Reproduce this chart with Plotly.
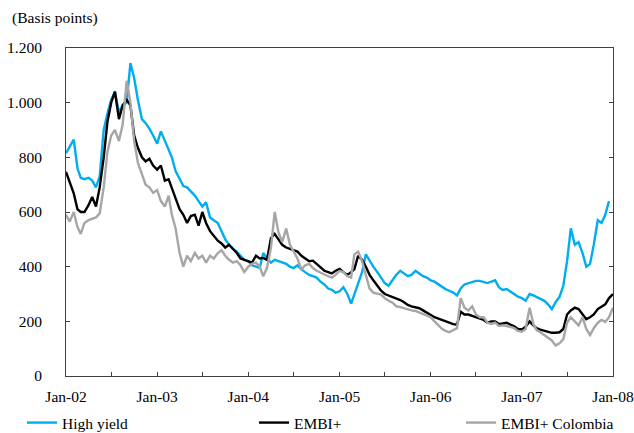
import plotly.graph_objects as go

# ---- data (semi-monthly readings, basis points) ----
years = [2002, 2003, 2004, 2005, 2006, 2007]
dates = [f"{y}-{m:02d}-{d:02d}" for y in years for m in range(1, 13) for d in (1, 16)] + ["2008-01-01"]

high_yield_2002 = [815, 840, 865, 760, 725, 720, 725, 715, 690, 730, 900, 960, 1010, 1040, 965, 990, 1000, 1145, 1090, 1010, 940, 925, 905, 880]
high_yield_2003 = [850, 895, 860, 830, 800, 750, 720, 695, 690, 675, 660, 640, 620, 635, 580, 570, 560, 530, 500, 480, 465, 455, 440, 425]
high_yield_2004 = [420, 405, 400, 395, 450, 430, 415, 425, 420, 415, 410, 400, 395, 405, 390, 380, 370, 365, 360, 345, 335, 320, 315, 305]
high_yield_2005 = [310, 325, 300, 265, 300, 340, 380, 445, 420, 400, 380, 360, 340, 330, 350, 370, 385, 375, 365, 370, 385, 375, 365, 360]
high_yield_2006 = [350, 345, 335, 325, 318, 312, 305, 295, 320, 335, 340, 345, 348, 348, 345, 340, 345, 350, 325, 315, 318, 310, 300, 290]
high_yield_2007 = [285, 275, 300, 295, 290, 282, 275, 262, 245, 270, 290, 330, 420, 540, 480, 490, 450, 400, 410, 480, 570, 560, 590, 640]
high_yield_end = [None]

embi_2002 = [747, 705, 668, 610, 600, 600, 625, 655, 620, 690, 800, 930, 1000, 1040, 940, 990, 1010, 990, 880, 835, 800, 785, 795, 770]
embi_2003 = [755, 770, 715, 720, 690, 650, 610, 590, 560, 585, 590, 550, 600, 560, 530, 515, 495, 485, 470, 480, 465, 450, 430, 425]
embi_2004 = [420, 415, 440, 430, 432, 425, 505, 520, 500, 480, 470, 465, 460, 455, 440, 430, 420, 422, 410, 395, 385, 380, 375, 385]
embi_2005 = [392, 380, 370, 380, 390, 440, 425, 400, 370, 350, 330, 312, 300, 295, 290, 285, 278, 270, 260, 255, 250, 248, 240, 232]
embi_2006 = [222, 215, 210, 205, 200, 195, 190, 188, 235, 225, 225, 220, 215, 212, 205, 195, 200, 200, 190, 192, 195, 188, 182, 172]
embi_2007 = [170, 180, 200, 185, 175, 170, 165, 160, 158, 158, 160, 172, 225, 240, 250, 245, 225, 208, 215, 225, 245, 255, 262, 285]
embi_end = [300]

colombia_2002 = [590, 565, 600, 545, 520, 560, 570, 575, 580, 595, 690, 820, 880, 900, 860, 920, 1080, 1000, 860, 780, 740, 700, 690, 670]
colombia_2003 = [680, 640, 620, 660, 590, 540, 450, 400, 440, 420, 450, 430, 440, 415, 440, 430, 450, 460, 440, 425, 415, 420, 405, 380]
colombia_2004 = [400, 410, 415, 400, 365, 395, 470, 600, 525, 490, 540, 480, 455, 430, 390, 405, 410, 395, 385, 378, 372, 365, 360, 370]
colombia_2005 = [385, 380, 365, 360, 445, 455, 420, 365, 320, 305, 300, 298, 285, 275, 268, 255, 252, 248, 242, 240, 238, 232, 228, 222]
colombia_2006 = [215, 200, 185, 172, 165, 160, 168, 175, 285, 250, 240, 255, 225, 215, 215, 195, 190, 195, 183, 185, 183, 178, 175, 165]
colombia_2007 = [162, 172, 250, 190, 168, 160, 150, 142, 130, 112, 120, 135, 195, 215, 200, 185, 215, 172, 150, 175, 195, 205, 198, 215]
colombia_end = [250]

high_yield = high_yield_2002 + high_yield_2003 + high_yield_2004 + high_yield_2005 + high_yield_2006 + high_yield_2007 + high_yield_end
embi = embi_2002 + embi_2003 + embi_2004 + embi_2005 + embi_2006 + embi_2007 + embi_end
colombia = colombia_2002 + colombia_2003 + colombia_2004 + colombia_2005 + colombia_2006 + colombia_2007 + colombia_end

y_tickvals = [0, 200, 400, 600, 800, 1000, 1200]
y_ticktext = ["0", "200", "400", "600", "800", "1.000", "1.200"]
x_tickvals = [f"{y}-01-01" for y in range(2002, 2009)]
x_ticktext = ["Jan-02", "Jan-03", "Jan-04", "Jan-05", "Jan-06", "Jan-07", "Jan-08"]
x_minorvals = [f"{y}-07-01" for y in range(2002, 2008)]

FONT = "Liberation Serif, Times New Roman, serif"
FS = 15.5
AX = "#404040"

fig = go.Figure()
fig.add_trace(go.Scatter(x=dates, y=high_yield, name="High yield", mode="lines",
                         line=dict(color="#00AEEF", width=2.4), legend="legend"))
fig.add_trace(go.Scatter(x=dates, y=embi, name="EMBI+", mode="lines",
                         line=dict(color="#000000", width=2.4), legend="legend2"))
fig.add_trace(go.Scatter(x=dates, y=colombia, name="EMBI+ Colombia", mode="lines",
                         line=dict(color="#A6A6A6", width=2.4), legend="legend3"))

leg_common = dict(orientation="h", yref="container", y=1 - 423 / 433, yanchor="middle",
                  xanchor="left", bgcolor="rgba(0,0,0,0)", font=dict(family=FONT, size=FS, color="#000"))

fig.update_layout(
    width=634, height=433,
    margin=dict(l=66, r=21, t=48, b=57),
    paper_bgcolor="white", plot_bgcolor="white",
    font=dict(family=FONT, size=FS, color="#000"),
    title=dict(text="(Basis points)", x=12 / 634, xanchor="left", xref="container",
               y=1 - 18 / 433, yanchor="middle", yref="container",
               font=dict(family=FONT, size=FS, color="#000")),
    showlegend=True,
    legend=dict(x=(22 - 66) / 547, **leg_common),
    legend2=dict(x=(254 - 66) / 547, **leg_common),
    legend3=dict(x=(461 - 66) / 547, **leg_common),
    xaxis=dict(type="date", range=["2002-01-01", "2008-01-01"], tickvals=x_tickvals, ticktext=x_ticktext,
               ticks="inside", ticklen=4, tickcolor=AX, showline=True, linecolor=AX, linewidth=1,
               mirror=True, showgrid=False, zeroline=False, automargin=False, ticklabelstandoff=6,
               minor=dict(tickvals=x_minorvals, ticks="inside", ticklen=4, tickcolor=AX, showgrid=False),
               tickfont=dict(family=FONT, size=FS, color="#000")),
    yaxis=dict(range=[0, 1200], tickvals=y_tickvals, ticktext=y_ticktext, ticks="inside", ticklen=4,
               tickcolor=AX, showline=True, linecolor=AX, linewidth=1, mirror="ticks", showgrid=False,
               zeroline=False, automargin=False, ticklabelstandoff=20,
               tickfont=dict(family=FONT, size=FS, color="#000")),
)

fig.write_html("out.html", config={"displayModeBar": False},
               post_script="document.body.style.margin='0';document.body.style.padding='0';"
                           "document.body.style.overflow='hidden';")
